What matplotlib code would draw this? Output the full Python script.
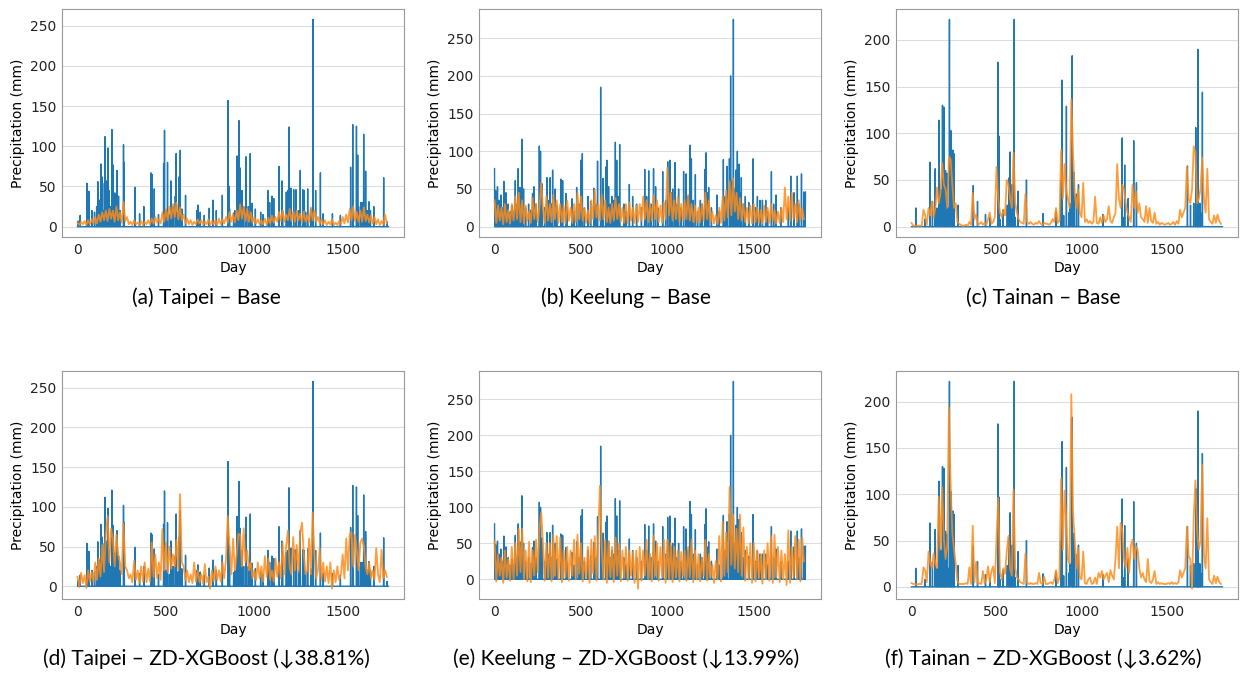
import numpy as np
import matplotlib.pyplot as plt

plt.rcParams['font.family'] = ['DejaVu Sans']

W, H = 1246, 673
STEP = 10

# ---- Taipei ----
taipei_len = 1760
taipei_obs = [(3, 7), (15, 14), (53, 54), (64, 44), (81, 20), (96, 18), (108, 25), (115, 56), (123, 33),
              (132, 78), (138, 62), (142, 54), (155, 112), (162, 57), (172, 98), (179, 45), (194, 121),
              (200, 77), (211, 42), (223, 70), (232, 38), (260, 102), (264, 80), (326, 49), (351, 16),
              (375, 25), (415, 67), (421, 65), (434, 47), (458, 15), (487, 78), (492, 120), (509, 80),
              (528, 57), (553, 38), (558, 91), (575, 62), (581, 95), (611, 39), (675, 20), (681, 27),
              (694, 18), (717, 14), (745, 23), (766, 33), (785, 20), (819, 39), (851, 157), (857, 50),
              (883, 17), (902, 88), (913, 132), (920, 73), (930, 45), (953, 87), (966, 25), (977, 91),
              (987, 29), (1006, 22), (1036, 18), (1049, 15), (1077, 45), (1087, 30), (1100, 38),
              (1110, 35), (1140, 75), (1157, 57), (1181, 43), (1189, 45), (1196, 124), (1208, 48),
              (1223, 46), (1236, 46), (1260, 70), (1274, 46), (1283, 45), (1302, 47), (1332, 258),
              (1347, 45), (1374, 67), (1389, 16), (1442, 16), (1487, 14), (1545, 74), (1557, 127),
              (1578, 125), (1585, 89), (1602, 30), (1619, 115), (1630, 69), (1649, 31), (1657, 20),
              (1676, 25), (1732, 61), (1751, 6),
              (110, 12), (145, 20), (150, 15), (185, 25), (205, 18), (240, 20), (500, 20), (520, 15),
              (540, 25), (565, 18), (590, 22), (860, 22), (890, 20), (925, 30), (940, 25), (1160, 20),
              (1200, 25), (1250, 20), (1290, 18), (1320, 22), (1560, 20), (1590, 25), (1610, 30),
              (1640, 20)]
taipei_base = [5, 2, 6, 3, 7, 2, 8, 3, 9, 4,
               12, 4, 15, 6, 18, 8, 20, 7, 22, 10,
               20, 6, 25, 8, 18, 5, 31, 7, 12, 3,
               6, 2, 8, 3, 5, 2, 7, 2, 6, 3,
               8, 3, 10, 4, 12, 5, 9, 4, 18, 6,
               22, 8, 25, 10, 28, 12, 30, 9, 24, 8,
               15, 4, 10, 3, 8, 2, 6, 3, 9, 4,
               8, 2, 6, 3, 9, 2, 7, 3, 8, 2,
               10, 3, 9, 4, 12, 5, 18, 6, 15, 5,
               20, 8, 28, 10, 25, 7, 22, 6, 18, 5,
               12, 4, 9, 3, 8, 3, 10, 2, 11, 4,
               14, 5, 12, 6, 18, 7, 20, 6, 15, 8,
               22, 7, 18, 6, 20, 8, 16, 5, 19, 6,
               14, 5, 24, 8, 20, 6, 12, 4, 9, 3,
               8, 2, 6, 3, 9, 2, 5, 2, 7, 3,
               12, 4, 15, 5, 22, 8, 25, 7, 18, 6,
               20, 6, 24, 7, 15, 5, 14, 4, 12, 3,
               9, 2, 7, 3, 15, 4]
taipei_zd = [12, -1, 17, 4, 14, -2, 20, 6, 18, 5,
             30, 8, 35, 12, 52, 18, 65, 88, 30, 72,
             60, 25, 65, 40, 30, 15, 79, 25, 20, 10,
             15, 5, 32, 8, 20, 4, 25, 6, 30, 5,
             22, 6, 55, 12, 40, 10, 30, 8, 72, 20,
             55, 18, 50, 22, 40, 25, 58, 20, 116, 30,
             25, 8, 20, 5, 15, 4, 30, 6, 20, 5,
             15, 3, 28, 5, 12, -3, 20, 6, 25, 8,
             20, 6, 30, 10, 35, 88, 50, 15, 60, 20,
             40, 66, 65, 25, 73, 30, 45, 20, 30, 10,
             20, 8, 30, 10, 25, 6, 38, 12, 35, 8,
             20, 6, 35, 12, 30, 10, 55, 15, 50, 70,
             25, 15, 62, 20, 52, 18, 68, 80, 40, 15,
             20, 60, 15, 93, 40, 10, 20, 48, 8, 30,
             6, 25, 4, 30, -3, 20, 5, 25, 8, 15,
             40, 10, 60, 20, 66, 68, 25, 65, 45, 20,
             55, 60, 50, 25, 15, 30, 10, 20, 8, 48,
             15, 5, 46, 10, 20, 12]

# ---- Keelung ----
keelung_len = 1800
keelung_obs = [(0, 77), (6, 48), (17, 53), (25, 35), (37, 42), (54, 60), (66, 45), (79, 30), (91, 20),
               (102, 28), (120, 61), (137, 77), (147, 52), (158, 116), (168, 50), (197, 30), (220, 44),
               (228, 53), (259, 107), (266, 100), (274, 57), (303, 65), (322, 65), (336, 75), (351, 50),
               (384, 63), (394, 61), (413, 44), (448, 37), (475, 52), (500, 88), (508, 97), (541, 40),
               (556, 33), (575, 51), (596, 87), (614, 185), (627, 64), (643, 79), (650, 88), (660, 53),
               (679, 40), (699, 112), (707, 88), (724, 109), (748, 30), (780, 56), (799, 40), (822, 30),
               (869, 76), (892, 74), (920, 77), (932, 53), (973, 73), (1002, 86), (1015, 88), (1031, 50),
               (1044, 85), (1065, 50), (1094, 73), (1108, 70), (1131, 108), (1139, 90), (1162, 69),
               (1191, 35), (1216, 76), (1224, 98), (1239, 52), (1255, 25), (1287, 42), (1324, 89),
               (1345, 80), (1359, 90), (1366, 200), (1374, 60), (1382, 275), (1397, 75), (1405, 100),
               (1415, 83), (1428, 65), (1451, 40), (1471, 32), (1496, 90), (1521, 40), (1536, 35),
               (1550, 35), (1569, 35), (1602, 73), (1629, 42), (1656, 25), (1714, 67), (1733, 45),
               (1752, 67), (1776, 70), (1789, 46), (1799, 46),
               (10, 15), (30, 20), (45, 25), (110, 20), (130, 30), (180, 25), (210, 22), (240, 30),
               (290, 25), (310, 35), (330, 30), (360, 28), (420, 25), (460, 20), (490, 30), (520, 25),
               (585, 30), (620, 40), (670, 30), (690, 35), (715, 40), (760, 20), (850, 25), (880, 40),
               (905, 30), (945, 25), (990, 35), (1025, 45), (1055, 30), (1080, 25), (1120, 40),
               (1150, 35), (1175, 20), (1200, 30), (1230, 45), (1300, 20), (1335, 40), (1390, 50),
               (1420, 45), (1440, 30), (1510, 25), (1580, 20), (1615, 30), (1700, 25), (1760, 30),
               (1795, 30)]
keelung_base = [35, 5, 28, 8, 25, 3, 30, 6, 22, 4,
                30, 8, 40, 10, 45, 6, 35, 4, 28, 8,
                20, 5, 38, 10, 30, 6, 25, 58, 25, 5,
                40, 8, 30, 6, 42, 10, 35, 5, 30, 6,
                28, 4, 35, 8, 25, 5, 30, 6, 45, 10,
                40, 8, 25, 5, 22, 4, 35, 10, 49, 12,
                30, 8, 42, 10, 35, 6, 25, 5, 30, 8,
                38, 10, 30, 6, 25, 5, 30, 4, 32, 8,
                25, 5, 28, 6, 30, 8, 40, 10, 35, 6,
                30, 8, 42, 10, 35, 6, 28, 5, 32, 10,
                78, 15, 45, 8, 35, 10, 40, 6, 30, 8,
                35, 10, 42, 8, 30, 6, 28, 5, 25, 6,
                30, 8, 45, 10, 35, 6, 20, 4, 15, 3,
                25, 5, 40, 8, 48, 12, 60, 15, 64, 20,
                45, 10, 38, 8, 30, 6, 25, 5, 28, 4,
                30, 6, 25, 5, 22, 4, 28, 6, 25, 5,
                30, 8, 22, 4, 20, 5, 25, 6, 52, 10,
                40, 8, 45, 10, 30, 6, 35, 8, 25, 10]
keelung_zd = [53, -3, 35, 5, 30, -5, 40, 2, 28, -2,
              45, 0, 50, 5, 70, 10, 70, 0, 40, -3,
              52, -4, 40, 5, 55, 10, 70, 93, 50, -2,
              50, 2, 50, -3, 62, 5, 60, 0, 58, -4,
              40, 3, 45, -2, 40, 5, 55, 0, 62, 8,
              50, -3, 30, 2, 45, -5, 55, 8, 60, -2,
              62, 130, 45, 0, 55, -5, 52, 3, 45, -4,
              58, 5, 50, -3, 40, 2, 45, -2, 40, 5,
              38, -5, 40, -13, 45, -2, 40, 5, 55, 0,
              35, -3, 60, 5, 50, -2, 45, 3, 55, -5,
              55, 0, 50, -4, 45, 2, 40, -3, 38, 5,
              40, -2, 45, 3, 55, -4, 40, 0, 35, -3,
              30, 5, 55, -2, 35, 3, 20, -5, 25, 0,
              60, -3, 80, 5, 65, 10, 128, 20, 90, 15,
              70, 10, 90, 5, 72, -2, 45, 0, 50, -5,
              50, -3, 40, 2, 35, -6, 40, 0, 50, -2,
              60, -5, 62, 3, 45, -4, 40, 0, 35, -8,
              68, -5, 45, 3, 60, 0, 55, -3, 58, 25]

# ---- Tainan ----
tainan_len = 1830
tainan_obs = [(25, 20), (80, 8), (108, 69), (123, 27), (139, 62), (150, 20), (161, 114), (171, 40),
              (182, 130), (190, 128), (200, 60), (210, 57), (223, 222), (231, 103), (243, 82), (251, 78),
              (274, 23), (363, 44), (388, 27), (435, 13), (461, 10), (508, 176), (514, 97), (539, 18),
              (563, 23), (572, 52), (580, 80), (592, 45), (604, 222), (627, 38), (676, 50), (774, 14),
              (849, 16), (880, 50), (886, 157), (911, 129), (931, 25), (945, 183), (956, 58), (970, 35),
              (982, 45), (1127, 13), (1239, 95), (1254, 66), (1274, 30), (1307, 92), (1323, 47),
              (1623, 65), (1641, 23), (1660, 25), (1672, 106), (1684, 190), (1696, 25), (1711, 144),
              (155, 8), (175, 15), (195, 12), (215, 20), (237, 10), (520, 8), (588, 12), (610, 10),
              (895, 12), (925, 15), (950, 20), (1245, 10), (1680, 12), (1690, 20), (1700, 15)]
tainan_base = [4, 1, 1, 1, 1, 1, 1, 18, 12, 2,
               20, 12, 27, 10, 20, 42, 25, 35, 68, 45,
               40, 20, 75, 72, 45, 20, 25, 5, 3, 2,
               1, 1, 2, 1, 5, 2, 36, 8, 13, 2,
               3, 5, 2, 4, 2, 8, 15, 3, 5, 10,
               64, 30, 15, 10, 18, 12, 50, 45, 30, 20,
               79, 25, 15, 8, 5, 4, 3, 35, 5, 3,
               5, 3, 2, 4, 3, 6, 3, 2, 4, 3,
               3, 2, 4, 8, 5, 20, 4, 6, 82, 30,
               67, 40, 30, 20, 136, 80, 35, 20, 40, 15,
               10, 47, 5, 8, 4, 6, 3, 5, 32, 4,
               3, 10, 4, 12, 5, 8, 22, 6, 4, 10,
               15, 67, 30, 20, 45, 40, 25, 15, 10, 5,
               45, 20, 38, 15, 25, 10, 8, 5, 22, 4,
               20, 6, 4, 15, 3, 5, 2, 4, 3, 2,
               3, 4, 2, 3, 5, 2, 6, 3, 18, 10,
               15, 20, 64, 30, 25, 40, 86, 79, 25, 30,
               40, 74, 30, 15, 62, 8, 5, 3, 12, 4, 13, 6, 3]
tainan_zd = [4, 3, 3, 2, 3, 3, 3, 21, 18, 5,
             38, 25, 20, 36, 25, 20, 97, 40, 108, 52,
             30, 45, 194, 111, 58, 40, 25, 6, 3, 3,
             3, 3, 4, 3, 21, 3, 66, 5, 27, 3,
             4, 3, 17, 4, 8, 22, 5, 17, 22, 4,
             53, 96, 16, 8, 20, 14, 38, 55, 20, 12,
             105, 20, 10, 8, 5, 4, 3, 36, 4, 3,
             4, 3, 3, 4, 3, 15, 4, 3, 11, 3,
             3, 4, 5, 3, 8, 18, 4, 10, 117, 40,
             104, 73, 30, 25, 208, 80, 50, 20, 42, 10,
             8, 38, 4, 3, 8, 10, 3, 4, 10, 3,
             15, 10, 17, 8, 12, 15, 5, 18, 12, 8,
             30, 65, 20, 69, 61, 30, 20, 42, 15, 44,
             51, 30, 44, 40, 20, 10, 15, 8, 5, 30,
             6, 4, 8, 17, 3, 5, 3, 4, 3, 3,
             3, 4, 3, 5, 3, 4, 3, 5, 18, 10,
             15, 20, 65, 33, 30, -2, 75, 115, 60, 40,
             50, 132, 35, 20, 74, 8, 5, 3, 12, 4, 11, 5, 3]

captions = ['(a) Taipei – Base', '(b) Keelung – Base', '(c) Tainan – Base',
            '(d) Taipei – ZD-XGBoost (↓38.81%)', '(e) Keelung – ZD-XGBoost (↓13.99%)',
            '(f) Tainan – ZD-XGBoost (↓3.62%)']


def daily(n, pairs):
    arr = np.zeros(n)
    for d, v in pairs:
        arr[d] = v
    return arr


stations = [(taipei_len, taipei_obs, taipei_base, taipei_zd),
            (keelung_len, keelung_obs, keelung_base, keelung_zd),
            (tainan_len, tainan_obs, tainan_base, tainan_zd)]

fig = plt.figure(figsize=(W / 100, H / 100), dpi=100)

lefts = [62, 479, 896]
tops = [9, 371]
cap_x = [206, 626, 1043]
cap_y = [298, 659]
ax_w, ax_h = 342, 228

for row in range(2):
    for col, (n, obs, base, zd) in enumerate(stations):
        ax = fig.add_axes([lefts[col] / W, 1 - (tops[row] + ax_h) / H, ax_w / W, ax_h / H])
        obs_arr = daily(n, obs)
        pred = base if row == 0 else zd
        pred_days = np.arange(len(pred)) * STEP
        ax.plot(np.arange(n), obs_arr, color='#1f77b4', lw=1.0)
        ax.plot(pred_days, pred, color='#ff8c1a', lw=1.3, alpha=0.85)
        ax.set_xticks([0, 500, 1000, 1500])
        ax.grid(axis='y', color='#dddddd', lw=0.8)
        ax.set_axisbelow(True)
        for s in ax.spines.values():
            s.set_color('#999999')
            s.set_linewidth(0.8)
        ax.tick_params(length=0, labelsize=10, pad=4, colors='#222222')
        for lab in ax.get_xticklabels() + ax.get_yticklabels():
            lab.set_family('DejaVu Sans')
        ax.set_xlabel('Day', fontsize=10, labelpad=3, family='DejaVu Sans')
        ax.set_ylabel('Precipitation (mm)', fontsize=10, labelpad=4, family='DejaVu Sans')
        fig.text(cap_x[col] / W, 1 - cap_y[row] / H, captions[row * 3 + col],
                 ha='center', va='center', fontsize=15, family=['Lato', 'DejaVu Sans'])

fig.savefig('out.png', dpi=100, facecolor='white')
